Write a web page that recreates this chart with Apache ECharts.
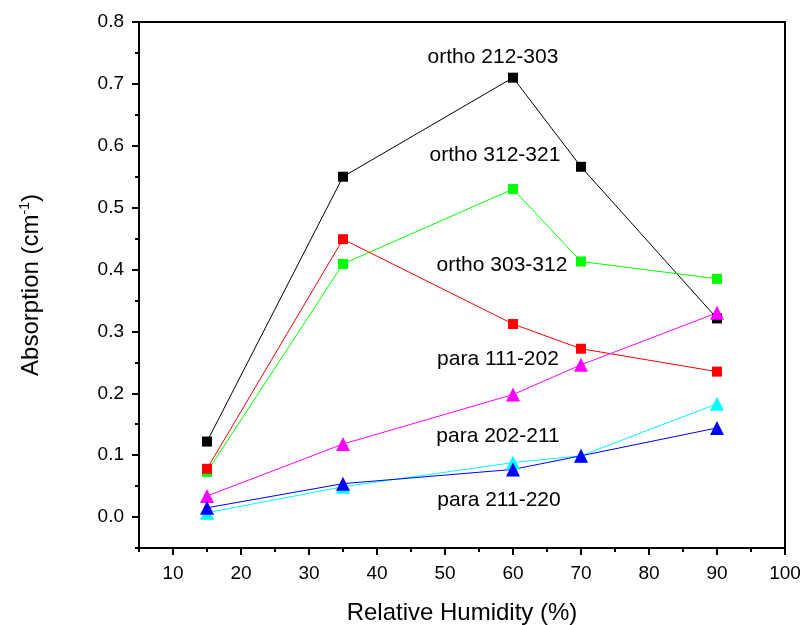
<!DOCTYPE html>
<html>
<head>
<meta charset="utf-8">
<script src="https://cdn.jsdelivr.net/npm/echarts@6/dist/echarts.min.js"></script>
<style>
  html, body { margin: 0; padding: 0; background: #fff; }
  #main { width: 804px; height: 625px; }
</style>
</head>
<body>
<div id="main"></div>
<script>
// relative humidity (%)
var humidity = [15, 35, 60, 70, 90];

// absorption values
var ortho212 = [0.122, 0.550, 0.710, 0.566, 0.321];
var ortho312 = [0.073, 0.409, 0.530, 0.413, 0.385];
var ortho303 = [0.078, 0.449, 0.312, 0.272, 0.235];
var para111 = [0.034, 0.118, 0.198, 0.246, 0.330];
var para202 = [0.007, 0.049, 0.088, 0.099, 0.183];
var para211 = [0.015, 0.054, 0.077, 0.099, 0.144];

var xMajor = [10, 20, 30, 40, 50, 60, 70, 80, 90, 100];
var yMajor = [0, 0.1, 0.2, 0.3, 0.4, 0.5, 0.6, 0.7, 0.8];

function pairs(ys) {
    var out = [];
    for (var i = 0; i < humidity.length; i++) {
        out.push([humidity[i], ys[i]]);
    }
    return out;
}

function line(name, ys, color, symbol, size) {
    return {
        name: name,
        type: 'line',
        data: pairs(ys),
        symbol: symbol,
        symbolSize: size,
        showSymbol: true,
        color: color,
        lineStyle: {width: 1, color: color},
        itemStyle: {color: color},
        animation: false
    };
}

var font = 'Liberation Sans, Arial, sans-serif';

function note(text, x, y) {
    return {
        type: 'text', x: x, y: y,
        style: {text: text, font: '21px ' + font, fill: '#000', textAlign: 'center', textVerticalAlign: 'middle'}
    };
}

var myChart = echarts.init(document.getElementById('main'));

var option = {
    backgroundColor: '#fff',
    grid: {
        left: 139, right: 19, top: 22, bottom: 77,
        show: true, borderColor: '#000', borderWidth: 2,
        containLabel: false,
        outerBoundsMode: 'none'
    },
    xAxis: [
        {
            type: 'value', min: 5, max: 100, interval: 5,
            name: 'Relative Humidity (%)',
            nameLocation: 'middle', nameGap: 53,
            nameTextStyle: {fontFamily: font, fontSize: 24, color: '#000'},
            axisLine: {show: true, onZero: false, lineStyle: {color: '#000', width: 2}},
            axisTick: {show: true, length: 4, inside: false, lineStyle: {color: '#000', width: 2}},
            axisLabel: {show: false},
            splitLine: {show: false}
        },
        {
            type: 'value', min: 5, max: 100, position: 'bottom',
            axisLine: {show: true, onZero: false, lineStyle: {color: '#000', width: 2}},
            axisTick: {show: true, customValues: xMajor, length: 7, lineStyle: {color: '#000', width: 2}},
            axisLabel: {customValues: xMajor, fontFamily: font, fontSize: 19, color: '#000', margin: 16},
            splitLine: {show: false}
        }
    ],
    yAxis: [
        {
            type: 'value', min: -0.05, max: 0.8,
            name: '{a|Absorption (cm}{s|-1}{a|)}',
            nameLocation: 'middle', nameGap: 95, nameRotate: 90,
            nameTextStyle: {
                rich: {
                    a: {fontFamily: font, fontSize: 24, color: '#000'},
                    s: {fontFamily: font, fontSize: 14, color: '#000', verticalAlign: 'top', padding: [0, 0, 12, 0]}
                }
            },
            axisLine: {show: true, onZero: false, lineStyle: {color: '#000', width: 2}},
            axisTick: {show: true, customValues: yMajor, length: 7, lineStyle: {color: '#000', width: 2}},
            axisLabel: {
                customValues: yMajor, fontFamily: font, fontSize: 19, color: '#000', margin: 15,
                formatter: function (v) { return v.toFixed(1); }
            },
            splitLine: {show: false}
        },
        {
            // minor ticks, in hundredths so the steps stay whole numbers
            type: 'value', min: -5, max: 80, interval: 5, position: 'left',
            axisLine: {show: true, onZero: false, lineStyle: {color: '#000', width: 2}},
            axisTick: {show: true, length: 4, lineStyle: {color: '#000', width: 2}},
            axisLabel: {show: false},
            splitLine: {show: false}
        }
    ],
    series: [
        line('ortho 212-303', ortho212, '#000000', 'rect', 10),
        line('ortho 312-321', ortho312, '#00ff00', 'rect', 10),
        line('ortho 303-312', ortho303, '#ff0000', 'rect', 10),
        line('para 111-202', para111, '#ff00ff', 'triangle', 14),
        line('para 202-211', para202, '#00ffff', 'triangle', 14),
        line('para 211-220', para211, '#0000ff', 'triangle', 14)
    ],
    graphic: [
        note('ortho 212-303', 493, 57),
        note('ortho 312-321', 495, 155),
        note('ortho 303-312', 502, 265),
        note('para 111-202', 498, 359),
        note('para 202-211', 498, 436),
        note('para 211-220', 499, 500)
    ]
};

myChart.setOption(option);
</script>
</body>
</html>
